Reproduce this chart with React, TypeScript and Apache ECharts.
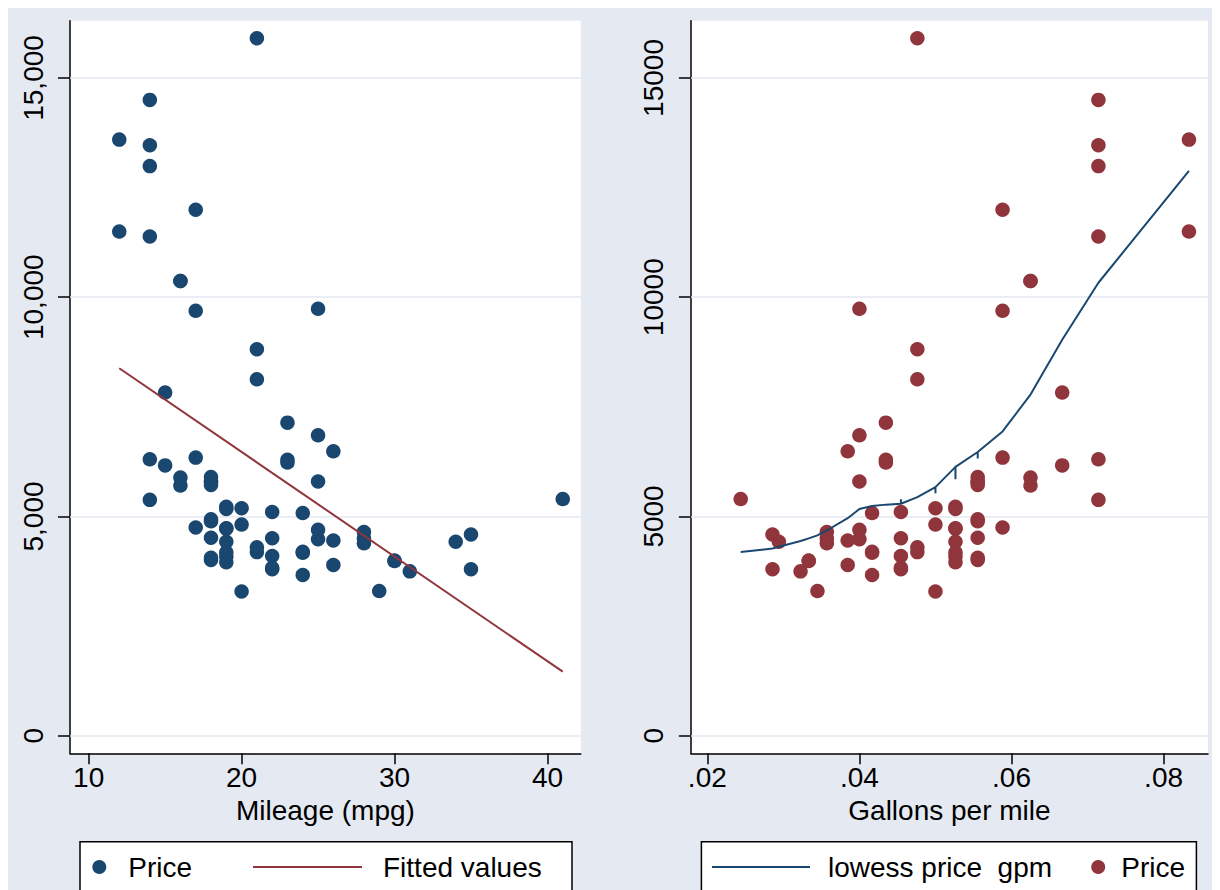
import React, { useEffect, useRef } from "react";
import * as echarts from "echarts";

// Stata auto dataset
const mpg = [22,17,22,20,15,18,26,20,16,19,14,14,21,29,16,22,22,24,19,30,18,16,17,28,21,12,12,14,22,14,15,18,14,20,21,19,19,18,19,24,16,28,34,25,26,18,18,18,19,19,19,24,17,23,25,23,35,24,21,21,25,28,30,14,26,35,18,31,18,23,41,25,25,17];
const price = [4099,4749,3799,4816,7827,5788,4453,5189,10372,4082,11385,14500,15906,3299,5705,4504,5104,3667,3955,3984,4010,5886,6342,4389,4187,11497,13594,13466,3829,5379,6165,4516,6303,3291,8814,5172,4733,4890,4181,4195,10371,4647,4425,4482,6486,4060,5798,4934,5222,4723,4424,4172,9690,6295,9735,6229,4589,5079,8129,4296,5799,4499,3995,12990,3895,3798,5899,3748,5719,7140,5397,4697,6850,11995];

// Fitted values (linear fit) endpoints
const fittedMpg = [12, 41];
const fittedPrice = [8380, 1460];

// Lowess curve of price on gpm (gpm = 1/mpg)
const lowessMpg = [41,35,34,31,30,29,28,26,25,24,23,22,21,20,19,18,17,16,15,14,12];
const lowessPrice = [4190,4270,4310,4440,4500,4570,4680,4960,5170,5240,5270,5290,5440,5670,6130,6470,6940,7780,9030,10330,12880];
const lowessTickMpg = [22, 20, 19, 18];
const lowessTickPrice = [5390, 5530, 5850, 6320];

const yTicks = [0, 5000, 10000, 15000];
const yLabelsLeft = ["0", "5,000", "10,000", "15,000"];
const yLabelsRight = ["0", "5000", "10000", "15000"];
const xTicksLeft = [10, 20, 30, 40];
const xTicksRight = [0.02, 0.04, 0.06, 0.08];
const xLabelsRight = [".02", ".04", ".06", ".08"];

const NAVY = "#1A476F";
const MAROON = "#90353B";
const BG = "#E5E9F2";
const GRID = "#E3E8F1";
const FONT = "'Liberation Sans', Arial, sans-serif";

export default function App() {
  const ref = useRef<HTMLDivElement>(null);
  useEffect(() => {
    if (!ref.current) return;
    const chart = echarts.init(ref.current, null, { renderer: "svg" });

    const gpm = mpg.map((m) => 1 / m);
    const leftPts = mpg.map((m, i) => [m, price[i]]);
    const rightPts = gpm.map((g, i) => [g, price[i]]);
    const fitted = fittedMpg.map((m, i) => [m, fittedPrice[i]]);
    const lowess: number[][] = [];
    lowessMpg.forEach((m, i) => {
      lowess.push([1 / m, lowessPrice[i]]);
      const t = lowessTickMpg.indexOf(m);
      if (t >= 0) {
        lowess.push([1 / m, lowessTickPrice[t]]);
        lowess.push([1 / m, lowessPrice[i]]);
      }
    });

    const labelFor = (vals: number[], labels: string[]) => (v: number) => {
      const k = vals.findIndex((x) => Math.abs(x - v) < 1e-9);
      return k >= 0 ? labels[k] : "";
    };

    const txt = { fontSize: 28, color: "#000", fontFamily: FONT };

    const xAxisCommon = (min: number, max: number, ticks: number[], fmt: any, name: string, gi: number) => ({
      type: "value",
      gridIndex: gi,
      min,
      max,
      name,
      nameLocation: "middle",
      nameGap: 33,
      nameTextStyle: { ...txt },
      axisLine: { show: true, onZero: false, lineStyle: { color: "#000", width: 1.5 } },
      axisTick: { show: true, length: 11, customValues: ticks, lineStyle: { color: "#000", width: 1.5 } },
      axisLabel: { customValues: ticks, formatter: fmt, margin: 10, ...txt },
      splitLine: { show: false },
    });
    const yAxisCommon = (labels: string[], gi: number) => ({
      type: "value",
      gridIndex: gi,
      min: -401,
      max: 16306,
      axisLine: { show: true, onZero: false, lineStyle: { color: "#000", width: 1.5 } },
      axisTick: { show: true, length: 12, customValues: yTicks, lineStyle: { color: "#000", width: 1.5 } },
      axisLabel: { customValues: yTicks, rotate: 90, margin: 23, formatter: labelFor(yTicks, labels), ...txt },
      splitLine: { show: false },
    });

    const gridLines = {
      silent: true,
      symbol: "none",
      z: 1,
      label: { show: false },
      lineStyle: { color: GRID, width: 1.5, type: "solid" },
      emphasis: { disabled: true },
      data: yTicks.map((v) => ({ yAxis: v })),
    };

    chart.setOption({
      animation: false,
      backgroundColor: BG,
      textStyle: { fontFamily: FONT },
      grid: [
        { left: 62, top: 12.7, width: 510.8, height: 732.6, show: true, backgroundColor: "#fff", borderWidth: 0 },
        { left: 682.9, top: 12.7, width: 517.1, height: 732.6, show: true, backgroundColor: "#fff", borderWidth: 0 },
      ],
      xAxis: [
        xAxisCommon(8.78, 42.18, xTicksLeft, (v: number) => String(v), "Mileage (mpg)", 0),
        xAxisCommon(0.01784, 0.08584, xTicksRight, labelFor(xTicksRight, xLabelsRight), "Gallons per mile", 1),
      ],
      yAxis: [yAxisCommon(yLabelsLeft, 0), yAxisCommon(yLabelsRight, 1)],
      graphic: [
        { type: "rect", z: 0, shape: { x: 72, y: 833.7, width: 492, height: 80 }, style: { fill: "#fff", stroke: "#000", lineWidth: 1.5 } },
        { type: "rect", z: 0, shape: { x: 693.4, y: 833.7, width: 495, height: 80 }, style: { fill: "#fff", stroke: "#000", lineWidth: 1.5 } },
      ],
      legend: [
        { data: ["Price"], left: 84.3, top: 845, icon: "circle", itemWidth: 14, itemHeight: 14, padding: 0, z: 10, selectedMode: false, textStyle: { ...txt, padding: [0, 0, 0, 17] } },
        { data: ["Fitted values"], left: 245, top: 845, icon: "rect", itemWidth: 109, itemHeight: 2, padding: 0, z: 10, selectedMode: false, textStyle: { ...txt, padding: [0, 0, 0, 16] } },
        { data: ["lowess price  gpm"], left: 704, top: 845, icon: "rect", itemWidth: 98, itemHeight: 2, padding: 0, z: 10, selectedMode: false, formatter: () => "lowess price\u00a0 gpm", textStyle: { ...txt, padding: [0, 0, 0, 13] } },
        { data: ["Price (gpm)"], left: 1083.2, top: 845, icon: "circle", itemWidth: 14, itemHeight: 14, padding: 0, z: 10, selectedMode: false, formatter: () => "Price", textStyle: { ...txt, padding: [0, 0, 0, 11] } },
      ],
      series: [
        {
          name: "Price",
          type: "scatter",
          xAxisIndex: 0,
          yAxisIndex: 0,
          symbolSize: 14.5,
          itemStyle: { color: NAVY, opacity: 1 },
          data: leftPts,
          z: 3,
          markLine: gridLines,
        },
        {
          name: "Fitted values",
          type: "line",
          xAxisIndex: 0,
          yAxisIndex: 0,
          showSymbol: false,
          symbol: "none",
          itemStyle: { color: MAROON },
          lineStyle: { color: MAROON, width: 2 },
          data: fitted,
          z: 4,
        },
        {
          name: "Price (gpm)",
          type: "scatter",
          xAxisIndex: 1,
          yAxisIndex: 1,
          symbolSize: 14.5,
          itemStyle: { color: MAROON, opacity: 1 },
          data: rightPts,
          z: 3,
          markLine: gridLines,
        },
        {
          name: "lowess price  gpm",
          type: "line",
          xAxisIndex: 1,
          yAxisIndex: 1,
          showSymbol: false,
          symbol: "none",
          itemStyle: { color: NAVY },
          lineStyle: { color: NAVY, width: 2 },
          data: lowess,
          z: 4,
        },
      ],
    });
    return () => chart.dispose();
  }, []);
  return <div ref={ref} style={{ width: 1212, height: 882 }} />;
}
